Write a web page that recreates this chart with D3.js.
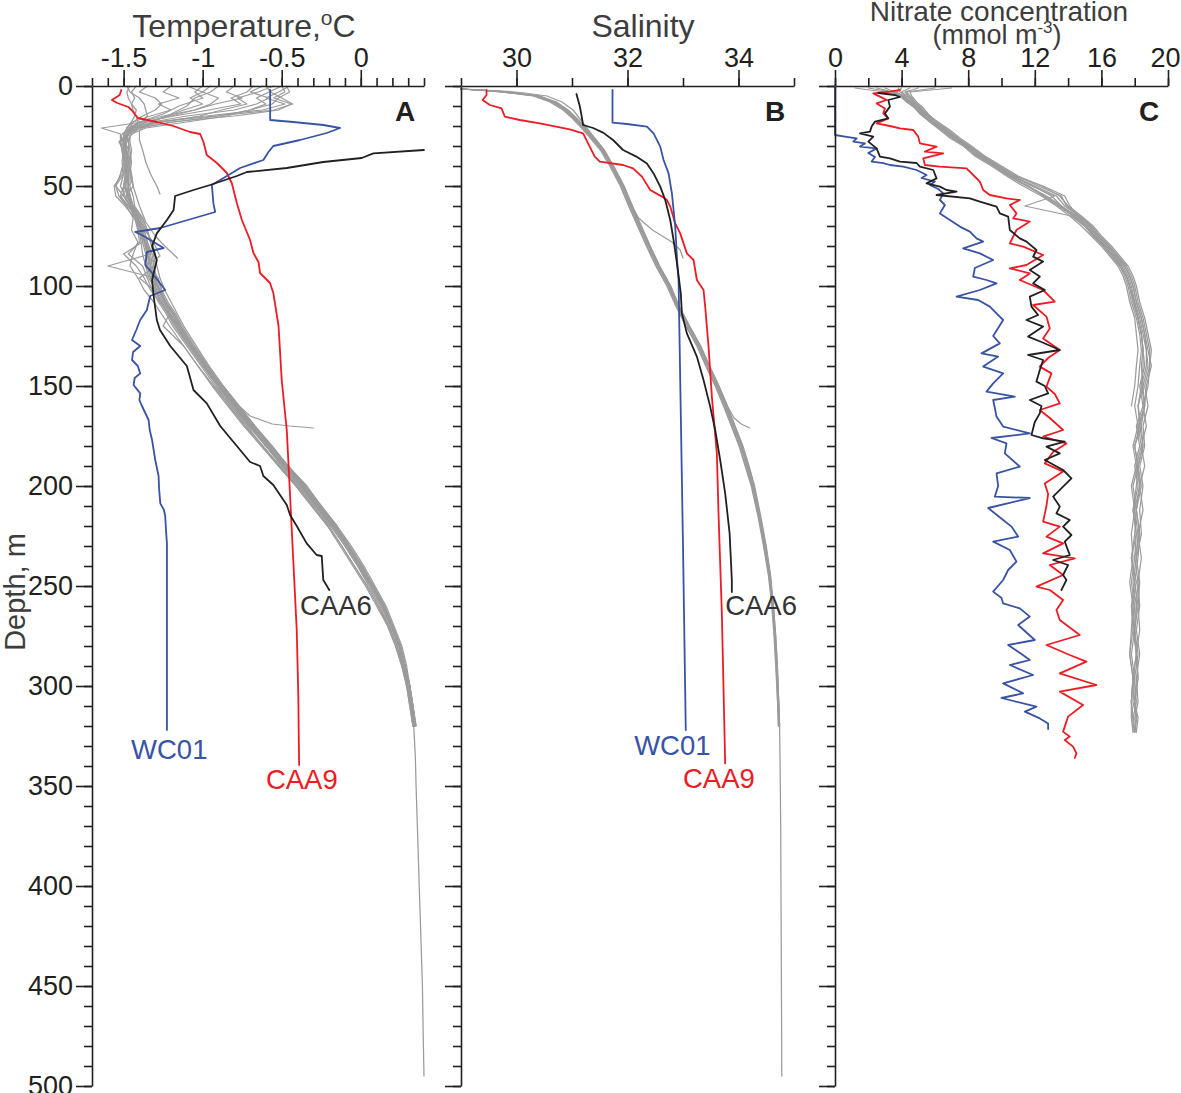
<!DOCTYPE html>
<html>
<head>
<meta charset="utf-8">
<script src="https://cdn.jsdelivr.net/npm/d3@7"></script>
<style>
    body { margin: 0; background: #fff; }
    svg { display: block; font-family: "Liberation Sans", Arial, Helvetica, sans-serif; }
    .axis path, .axis line { stroke: #231f20; stroke-width: 1.6; }
    .axis text { fill: #231f20; font-size: 27px; }
    .title { fill: #3d3d3d; font-size: 32px; }
    .panel-letter { fill: #231f20; font-size: 28px; font-weight: bold; }
    .profile { fill: none; stroke-linejoin: round; stroke-linecap: round; }
</style>
</head>
<body>
<svg id="chart" width="1181" height="1093"></svg>
<script>
// ---- tick values ----
const depthMajorTicks = d3.range(0, 501, 50);
const depthMinorTicks = d3.range(0, 501, 10);
const tempMajorTicks = [-1.5, -1, -0.5, 0];
const tempMinorTicks = d3.range(-17, 5).map(i => i / 10);
const salMajorTicks = [30, 32, 34];
const salMinorTicks = [29, 30, 31, 32, 33, 34, 35];
const nitMajorTicks = [0, 4, 8, 12, 16, 20];
const nitMinorTicks = [0, 2, 4, 6, 8, 10, 12, 14, 16, 18, 20];

// ---- A: temperature, [depth, degC] ----
const tempCAA9 = [[2,-1.515],[4.5,-1.525],[7,-1.574],[8.5,-1.54],[10.5,-1.47],[12,-1.45],[16,-1.41],[18,-1.29],[20,-1.186],[23,-1.08],[24,-1.016],[28,-0.995],[34.5,-0.974],[38.5,-0.91],[43.5,-0.847],[48.5,-0.816],[58.5,-0.784],[67,-0.752],[77,-0.70],[83.5,-0.679],[88,-0.647],[93.5,-0.637],[98.5,-0.574],[103.5,-0.553],[120,-0.52],[147,-0.50],[172,-0.468],[205,-0.447],[238.5,-0.426],[272,-0.405],[305,-0.395],[339.5,-0.39]];
const tempWC01 = [[2,-0.573],[17,-0.573],[18,-0.427],[19.5,-0.237],[21,-0.131],[23.5,-0.215],[27,-0.384],[30,-0.553],[33,-0.584],[37,-0.616],[41,-0.763],[47,-0.889],[49.5,-0.942],[58.7,-0.932],[63,-0.921],[71,-1.268],[73,-1.426],[75,-1.374],[81,-1.247],[83,-1.353],[89.5,-1.363],[93.5,-1.32],[102,-1.237],[105,-1.332],[112,-1.353],[117,-1.395],[122,-1.42],[127,-1.447],[130,-1.395],[133,-1.44],[137,-1.447],[140,-1.41],[143.7,-1.395],[146,-1.43],[149.5,-1.437],[153.7,-1.395],[157,-1.40],[160,-1.384],[167,-1.342],[172,-1.335],[177,-1.32],[182,-1.31],[187,-1.3],[195,-1.279],[202,-1.275],[208.7,-1.268],[212,-1.245],[215,-1.237],[222,-1.232],[228.7,-1.226],[322,-1.226]];
const tempCAA6 = [[32,0.4],[33.7,0.08],[36,0.006],[38,-0.237],[41,-0.468],[43,-0.72],[45,-0.784],[49.5,-0.953],[52,-1.058],[55,-1.174],[62,-1.184],[67,-1.226],[73.7,-1.29],[80,-1.32],[87,-1.29],[97,-1.32],[105,-1.31],[117,-1.29],[122,-1.27],[130,-1.205],[140,-1.1],[152,-1.058],[158.7,-0.974],[170,-0.889],[180,-0.784],[188,-0.7],[190,-0.637],[195,-0.616],[199.5,-0.553],[209.5,-0.468],[214.5,-0.447],[220,-0.405],[228.7,-0.342],[234.5,-0.279],[235,-0.247],[247,-0.237],[252,-0.199]];

const tempGrayDepth = [0,3,6,9,12,15,18,21,24,28,32,38,44,50,55,60,66,72,78,84,90,96,102,108,114,120,130,140,150,160,170,180,190,200,210,220,230,240,250,260,270,280,290,300,310,320];
const tempGray = [
    [-0.45,-0.52,-0.6,-0.48,-0.62,-0.98,-1.3,-1.42,-1.47,-1.49,-1.5,-1.49,-1.48,-1.47,-1.46,-1.44,-1.41,-1.38,-1.36,-1.34,-1.33,-1.31,-1.28,-1.24,-1.19,-1.15,-1.07,-0.98,-0.89,-0.79,-0.69,-0.58,-0.47,-0.36,-0.27,-0.17,-0.08,0.0,0.08,0.15,0.2,0.25,0.28,0.31,0.33,0.345],
    [-0.55,-0.65,-0.78,-0.72,-0.88,-1.02,-1.25,-1.42,-1.48,-1.52,-1.51,-1.5,-1.52,-1.55,-1.5,-1.46,-1.43,-1.41,-1.4,-1.47,-1.38,-1.35,-1.32,-1.28,-1.23,-1.19,-1.1,-1.01,-0.92,-0.82,-0.72,-0.62,-0.51,-0.4,-0.3,-0.2,-0.12,-0.04,0.04,0.11,0.18,0.23,0.27,0.3,0.32,0.335],
    [-1.42,-1.45,-1.43,-1.45,-1.42,-1.43,-1.45,-1.48,-1.5,-1.49,-1.49,-1.48,-1.47,-1.47,-1.46,-1.44,-1.4,-1.37,-1.35,-1.32,-1.31,-1.29,-1.26,-1.22,-1.17,-1.13,-1.05,-0.96,-0.87,-0.77,-0.67,-0.56,-0.46,-0.34,-0.25,-0.15,-0.06,0.02,0.09,0.16,0.21,0.26,0.29,0.31,0.325,0.335],
    [-0.68,-0.72,-0.82,-0.76,-0.96,-1.18,-1.38,-1.46,-1.5,-1.5,-1.48,-1.46,-1.47,-1.5,-1.52,-1.47,-1.42,-1.38,-1.38,-1.5,-1.42,-1.37,-1.33,-1.27,-1.22,-1.18,-1.09,-1.0,-0.9,-0.8,-0.7,-0.6,-0.49,-0.38,-0.28,-0.18,-0.09,-0.01,0.06,0.13,0.19,0.24,0.27,0.3,0.32,0.34],
    [-1.48,-1.46,-1.4,-1.37,-1.36,-1.35,-1.38,-1.64,-1.52,-1.52,-1.51,-1.5,-1.51,-1.56,-1.55,-1.49,-1.43,-1.4,-1.39,-1.38,-1.36,-1.34,-1.3,-1.26,-1.22,-1.17,-1.09,-1.0,-0.91,-0.81,-0.71,-0.6,-0.5,-0.39,-0.29,-0.19,-0.1,-0.02,0.05,0.12,0.18,0.23,0.265,0.295,0.315,0.33],
    [-0.6,-0.57,-0.5,-0.43,-0.55,-0.92,-1.28,-1.42,-1.46,-1.46,-1.45,-1.46,-1.47,-1.48,-1.47,-1.44,-1.38,-1.35,-1.33,-1.3,-1.29,-1.27,-1.24,-1.2,-1.16,-1.12,-1.04,-0.96,-0.87,-0.77,-0.67,-0.57,-0.46,-0.35,-0.25,-0.15,-0.07,0.01,0.08,0.15,0.2,0.25,0.28,0.31,0.33,0.35],
    [-0.8,-0.85,-0.75,-0.92,-1.05,-1.2,-1.36,-1.45,-1.48,-1.47,-1.46,-1.45,-1.46,-1.46,-1.44,-1.43,-1.38,-1.35,-1.33,-1.31,-1.3,-1.4,-1.31,-1.26,-1.21,-1.25,-1.12,-1.03,-0.94,-0.84,-0.74,-0.63,-0.52,-0.41,-0.31,-0.21,-0.13,-0.05,0.03,0.1,0.17,0.22,0.26,0.29,0.31,0.33],
    [-1.35,-1.4,-1.3,-1.26,-1.3,-1.38,-1.44,-1.46,-1.48,-1.53,-1.5,-1.51,-1.5,-1.55,-1.53,-1.48,-1.44,-1.45,-1.41,-1.44,-1.46,-1.41,-1.37,-1.31,-1.26,-1.21,-1.12,-1.03,-0.93,-0.83,-0.73,-0.62,-0.52,-0.41,-0.31,-0.21,-0.12,-0.04,0.04,0.11,0.17,0.22,0.26,0.29,0.31,0.33],
    [-1.2,-1.25,-1.15,-1.28,-1.2,-1.33,-1.44,-1.48,-1.47,-1.49,-1.47,-1.48,-1.49,-1.5,-1.47,-1.46,-1.41,-1.41,-1.36,-1.33,-1.6,-1.3,-1.3,-1.27,-1.21,-1.15,-1.07,-0.98,-0.89,-0.79,-0.69,-0.59,-0.48,-0.37,-0.27,-0.17,-0.08,0.0,0.07,0.14,0.2,0.245,0.28,0.305,0.325,0.34],
    [-0.95,-1.0,-1.08,-1.0,-1.12,-1.22,-1.35,-1.44,-1.47,-1.48,-1.49,-1.47,-1.45,-1.44,-1.48,-1.45,-1.39,-1.36,-1.32,-1.3,-1.36,-1.28,-1.26,-1.24,-1.18,-1.14,-1.06,-0.97,-0.88,-0.78,-0.68,-0.57,-0.46,-0.35,-0.25,-0.16,-0.07,0.01,0.08,0.15,0.2,0.25,0.28,0.31,0.33,0.345],
    [-1.46,-1.48,-1.47,-1.45,-1.44,-1.42,-1.41,-1.44,-1.51,-1.52,-1.51,-1.49,-1.48,-1.5,-1.5,-1.46,-1.43,-1.4,-1.38,-1.36,-1.35,-1.33,-1.3,-1.26,-1.21,-1.17,-1.08,-0.99,-0.9,-0.8,-0.7,-0.6,-0.48,-0.37,-0.28,-0.19,-0.1,-0.02,0.06,0.13,0.19,0.24,0.27,0.3,0.32,0.34],
    [-0.5,-0.58,-0.66,-0.6,-0.7,-0.85,-1.1,-1.36,-1.45,-1.48,-1.49,-1.5,-1.49,-1.49,-1.47,-1.45,-1.41,-1.39,-1.37,-1.35,-1.33,-1.31,-1.27,-1.23,-1.18,-1.14,-1.06,-0.97,-0.88,-0.78,-0.68,-0.58,-0.47,-0.36,-0.26,-0.16,-0.08,0.0,0.08,0.14,0.2,0.25,0.28,0.3,0.32,0.34],
    [-0.62,-0.7,-0.58,-0.66,-0.8,-1.1,-1.32,-1.44,-1.48,-1.5,-1.5,-1.48,-1.47,-1.49,-1.48,-1.45,-1.42,-1.39,-1.36,-1.35,-1.34,-1.32,-1.29,-1.25,-1.2,-1.16,-1.08,-0.99,-0.9,-0.8,-0.7,-0.6,-0.49,-0.38,-0.28,-0.18,-0.09,-0.01,0.07,0.14,0.2,0.25,0.28,0.31,0.33,0.345],
    [-1.1,-1.0,-0.9,-0.95,-1.05,-1.25,-1.4,-1.47,-1.49,-1.51,-1.5,-1.49,-1.5,-1.52,-1.49,-1.46,-1.42,-1.39,-1.37,-1.35,-1.33,-1.31,-1.28,-1.24,-1.19,-1.15,-1.07,-0.98,-0.89,-0.79,-0.69,-0.59,-0.48,-0.37,-0.27,-0.17,-0.09,-0.01,0.07,0.14,0.2,0.25,0.28,0.31,0.33,0.34],
    [-0.47,-0.45,-0.52,-0.56,-0.7,-0.9,-1.18,-1.4,-1.47,-1.5,-1.49,-1.47,-1.48,-1.47,-1.46,-1.44,-1.4,-1.37,-1.35,-1.33,-1.32,-1.3,-1.27,-1.23,-1.18,-1.14,-1.06,-0.97,-0.88,-0.78,-0.68,-0.57,-0.46,-0.36,-0.26,-0.16,-0.08,0.0,0.08,0.15,0.2,0.25,0.28,0.31,0.33,0.35]
];
const tempDeepTail = [[335,0.345],[350,0.35],[375,0.36],[400,0.37],[425,0.38],[450,0.39],[475,0.395],[495,0.4]];
const tempGrayShort = [
    [[0,-0.9],[3,-0.95],[6,-1.05],[10,-1.1],[14,-1.2],[18,-1.32],[22,-1.4],[27,-1.4],[32,-1.38],[38,-1.36],[44,-1.33],[50,-1.29],[54,-1.27]],
    [[0,-0.5],[3,-0.48],[6,-0.55],[9,-0.44],[12,-0.52],[15,-0.8],[18,-1.2],[21,-1.4],[25,-1.46],[30,-1.47],[40,-1.46],[50,-1.44],[60,-1.4],[68,-1.36],[75,-1.3],[80,-1.24],[86,-1.16]],
    [[0,-1.0],[3,-1.05],[6,-1.0],[10,-1.15],[14,-1.25],[18,-1.4],[22,-1.47],[28,-1.49],[38,-1.47],[48,-1.45],[56,-1.52],[62,-1.45],[70,-1.38],[80,-1.3],[85,-1.27],[90,-1.36],[96,-1.3],[105,-1.26],[115,-1.2],[125,-1.12],[135,-1.03],[145,-0.94],[155,-0.84],[165,-0.7],[169,-0.56],[170,-0.45],[171,-0.3]]
];

// ---- B: salinity, [depth, psu] ----
const salCAA9 = [[2,29.46],[4.5,29.46],[7,29.39],[9.5,29.52],[11.2,29.73],[15.3,29.79],[17,30.06],[18.7,30.42],[21.7,30.96],[23.7,31.2],[28.7,31.29],[35.3,31.41],[37.8,31.5],[39.5,31.92],[41.2,32.1],[45.3,32.26],[52,32.41],[55.3,32.62],[57,32.71],[60.3,32.77],[68.7,32.86],[73.7,32.95],[83.7,33.07],[87,33.19],[97,33.25],[102,33.37],[110.3,33.4],[130.3,33.46],[155.3,33.52],[183.7,33.61],[213.7,33.64],[263.7,33.7],[338.7,33.76]];
const salWC01 = [[2,31.73],[18.3,31.73],[19,31.99],[20.3,32.35],[23.7,32.47],[30.3,32.59],[37,32.65],[43.7,32.74],[53.7,32.8],[70.3,32.86],[90.3,32.9],[97,32.92],[147,32.95],[230,33.0],[322,33.05]];
const salCAA6 = [[4,31.08],[10,31.14],[14.5,31.17],[19.5,31.2],[21,31.38],[23.3,31.56],[27,31.74],[32,31.92],[35.3,32.16],[38.7,32.35],[43.7,32.47],[50.3,32.59],[57,32.68],[67,32.77],[77,32.83],[90.3,32.9],[103.7,32.96],[113.7,32.98],[123.7,33.07],[135.3,33.25],[147,33.37],[160.3,33.49],[172,33.58],[187,33.67],[203.7,33.76],[223.7,33.84],[247,33.88],[253,33.88]];

const salGrayDepth = [1.5,2.5,3.5,5,8,12,16,20,25,32,40,50,60,70,80,90,100,110,120,130,140,150,160,170,180,190,200,215,230,245,260,275,290,305,320];
const salGray = [
    [29.0,29.6,29.95,30.38,30.68,30.9,31.05,31.18,31.34,31.55,31.72,31.91,32.06,32.22,32.38,32.55,32.75,32.9,33.09,33.29,33.45,33.62,33.77,33.91,34.05,34.16,34.26,34.38,34.48,34.56,34.62,34.66,34.69,34.71,34.73],
    [29.0,29.55,29.9,30.33,30.63,30.86,31.02,31.16,31.33,31.53,31.7,31.88,32.03,32.19,32.35,32.52,32.72,32.88,33.06,33.26,33.42,33.59,33.74,33.88,34.02,34.13,34.24,34.36,34.46,34.55,34.61,34.65,34.68,34.7,34.72],
    [29.0,29.65,30.0,30.42,30.72,30.93,31.08,31.21,31.37,31.58,31.75,31.94,32.09,32.25,32.41,32.58,32.78,32.93,33.12,33.32,33.48,33.65,33.8,33.94,34.08,34.19,34.29,34.4,34.5,34.58,34.63,34.67,34.7,34.72,34.74],
    [29.0,29.62,29.97,30.4,30.7,30.91,31.06,31.19,31.35,31.56,31.73,31.92,32.07,32.23,32.39,32.56,32.76,32.91,33.1,33.3,33.46,33.63,33.78,33.92,34.06,34.17,34.27,34.39,34.49,34.57,34.62,34.66,34.69,34.72,34.74],
    [29.0,29.58,29.92,30.36,30.66,30.88,31.03,31.17,31.32,31.54,31.71,31.9,32.05,32.21,32.37,32.54,32.74,32.89,33.08,33.28,33.44,33.61,33.76,33.9,34.04,34.15,34.25,34.37,34.47,34.56,34.62,34.66,34.69,34.71,34.73],
    [29.05,29.75,30.15,30.55,30.82,31.02,31.13,31.24,31.38,31.58,31.74,31.93,32.08,32.24,32.4,32.57,32.77,32.92,33.11,33.31,33.47,33.64,33.79,33.93,34.07,34.18,34.28,34.39,34.49,34.57,34.63,34.67,34.7,34.72,34.74],
    [29.0,29.52,29.88,30.3,30.6,30.84,31.0,31.14,31.3,31.51,31.68,31.87,32.02,32.18,32.34,32.51,32.71,32.87,33.05,33.25,33.41,33.58,33.73,33.87,34.01,34.12,34.23,34.35,34.45,34.54,34.6,34.64,34.67,34.7,34.72]
];
const salDeepTail = [[340,34.75],[370,34.76],[400,34.765],[430,34.77],[460,34.775],[495,34.78]];
const salGrayShort = [
    [[1.5,29.0],[2.5,29.6],[3.5,29.96],[5,30.39],[8,30.69],[12,30.9],[16,31.05],[20,31.18],[25,31.34],[32,31.55],[40,31.72],[50,31.91],[60,32.08],[66,32.2],[72,32.45],[78,32.8],[82,32.95],[86,33.0]],
    [[1.5,29.0],[2.5,29.64],[3.5,29.98],[5,30.41],[8,30.71],[12,30.92],[16,31.07],[20,31.2],[25,31.36],[32,31.57],[40,31.74],[50,31.93],[60,32.08],[70,32.24],[80,32.4],[90,32.57],[100,32.77],[110,32.92],[120,33.11],[130,33.31],[140,33.47],[150,33.64],[160,33.8],[166,33.92],[169,34.05],[171,34.2]]
];

// ---- C: nitrate, [depth, mmol m-3] ----
const nitWC01 = [[1,0],[24.5,0],[25.3,0.6],[26.2,1.3],[27.8,1.1],[28.7,1.8],[30.3,1.5],[31.2,2.5],[33.5,2.0],[35.5,2.4],[37.8,2.2],[38.6,2.9],[39.5,3.3],[40.3,4.1],[42,4.9],[44.5,5.5],[46,5.2],[47.8,6.0],[49.5,5.7],[51.5,6.2],[53.7,6.5],[57,6.3],[59.5,6.6],[63.7,6.3],[67,6.9],[70.3,7.5],[72.8,8.1],[76.2,8.5],[77.8,8.9],[81.2,7.7],[83.7,8.7],[87,9.5],[91,8.4],[95.3,8.3],[97,9.1],[98.7,9.7],[102,8.7],[105.3,7.3],[107,8.6],[110.3,9.3],[113.7,9.7],[117,10.1],[121,9.8],[125,9.5],[128.7,9.9],[133.7,8.8],[135.3,9.8],[140.3,8.9],[143.7,10.1],[148.7,9.5],[152.8,9.1],[155.3,10.8],[157,9.5],[161,9.6],[165.3,9.7],[170.3,10.1],[173.7,11.7],[176,9.4],[178.7,10.3],[183.7,10.2],[190.3,11.1],[193.7,9.7],[200,9.8],[205.3,9.6],[206,11.7],[211,9.2],[217,10.1],[220.3,10.6],[225.3,11.0],[227.8,9.5],[232,10.5],[237.8,10.9],[242,10.4],[247,10.1],[252.8,9.5],[256,10.0],[258.7,10.1],[261.2,11.1],[265.3,11.7],[269.5,11.0],[277,12.0],[279.5,10.4],[284,11.2],[287,11.7],[289.5,10.5],[294.5,11.9],[298.7,10.1],[303.7,11.3],[306,10.0],[310.3,12.1],[312.8,11.4],[316.2,12.3],[318.7,12.8],[321.5,12.8]];
const nitCAA6 = [[3.5,2.6],[4.5,3.6],[5.5,3.9],[7,3.2],[10.3,3.3],[13.7,3.0],[16.2,3.2],[17.8,2.4],[20.3,2.2],[22.8,2.1],[23.7,1.5],[25.3,2.3],[27.8,2.0],[31.2,2.5],[35.3,2.7],[36.2,3.3],[37.8,3.9],[38.5,4.9],[40.3,5.1],[42,5.9],[46.2,6.1],[48.7,5.5],[50.3,6.3],[52,6.7],[52.8,7.3],[54.5,6.1],[56.2,8.1],[57.8,8.7],[60.3,9.7],[63.7,9.9],[65.3,10.4],[72,10.5],[76.2,11.1],[77.8,11.5],[82,12.1],[85.3,11.9],[87.8,12.5],[92,11.7],[95.3,12.3],[98.7,11.9],[102,12.6],[105.3,11.7],[110.3,11.8],[114.5,12.2],[117,11.5],[120.3,12.5],[125.3,11.6],[128,12.4],[132,13.5],[134.5,11.6],[137,12.5],[142,12.3],[147.8,12.1],[150,12.6],[153.7,12.8],[157,11.7],[160,12.4],[163.7,12.3],[168,12.0],[174.5,11.8],[176.2,12.5],[177.8,13.8],[180.3,12.7],[183.7,13.5],[187,12.6],[192,13.7],[196.2,14.2],[200.3,13.7],[205.3,13.1],[210.3,13.5],[213.7,13.3],[217,14.1],[220.3,13.7],[224.5,14.2],[227.8,13.8],[234.5,14.1],[237,13.1],[239.5,14.0],[244.5,13.7],[247,13.9],[250.3,13.7],[252,13.6]];
const nitCAA9 = [[2,3.9],[2.8,3.3],[3.7,2.3],[5.3,2.7],[7,3.1],[8.7,2.5],[11.2,3.0],[13.7,2.9],[16.2,3.2],[18.7,2.5],[20,3.3],[21.2,3.9],[22,4.7],[25.3,5.0],[28.7,5.1],[30.3,6.1],[32.8,5.4],[33.7,6.5],[36.2,5.3],[39.5,5.4],[40.3,6.3],[41.2,7.9],[44.5,8.3],[47.8,8.7],[52,8.9],[54.5,9.3],[56.2,10.3],[57,11.1],[59.5,10.5],[63.7,10.9],[66.2,10.7],[67.8,11.7],[72,10.9],[78.7,10.5],[80.3,11.3],[84.5,12.5],[89.5,11.5],[91.2,10.5],[93.7,11.7],[97,11.1],[102,12.5],[107.8,13.2],[109.5,11.9],[115.3,12.7],[121.2,12.9],[126.2,12.5],[132,13.5],[136,12.8],[140.3,12.3],[143.7,13.0],[150.3,12.7],[154,13.2],[158.7,13.5],[162,12.3],[166,12.9],[172,13.7],[175.3,12.5],[178.7,13.9],[183,13.1],[188.7,12.6],[192.8,13.7],[198.7,12.6],[204,12.8],[210,12.7],[217.8,12.5],[220.3,13.5],[225.3,12.7],[228.7,13.7],[233.7,12.5],[236.2,14.4],[239.5,12.9],[244.5,13.7],[250.3,12.1],[252,12.9],[257,13.7],[262,13.3],[267,13.5],[274.5,14.7],[279.5,12.7],[284.5,14.1],[287.8,15.1],[293.7,13.5],[299.5,15.7],[302.8,13.5],[309.5,14.9],[315.3,14.0],[322.8,13.7],[325.3,14.1],[327,13.8],[330.3,14.3],[333.7,14.5],[336,14.4]];

const nitGrayDepth = [1,3,5,8,11,14,18,22,26,30,35,40,45,50,55,60,65,70,75,80,85,90,95,100,108,116,124,132,140,150,160,170,180,190,200,212,224,236,248,260,272,284,296,308,316,323];
const nitGray = [
    [1.2,3.0,3.9,4.4,4.8,5.2,5.7,6.4,7.0,7.8,8.5,9.5,10.4,11.5,12.6,13.5,14.3,15.0,15.6,16.1,16.7,17.1,17.5,17.7,17.9,18.2,18.4,18.5,18.6,18.3,18.5,18.1,18.3,18.0,18.2,17.9,18.1,17.8,18.0,17.8,17.9,17.7,17.9,17.8,17.9,17.9],
    [7.0,4.5,4.6,4.9,5.3,5.6,6.1,6.8,7.4,8.1,8.9,9.9,10.9,12.2,13.6,13.9,14.7,15.4,15.9,16.5,17.0,17.5,17.8,18.0,18.2,18.5,18.7,18.9,18.9,18.8,18.5,18.7,18.4,18.6,18.3,18.5,18.2,18.4,18.2,18.3,18.1,18.3,18.1,18.2,18.0,18.1],
    [2.5,3.5,4.0,4.5,4.9,5.4,6.0,6.7,7.3,8.0,8.8,9.8,10.7,11.8,13.2,11.4,14.2,15.0,15.6,16.2,16.7,17.2,17.5,17.7,18.0,18.2,18.4,18.5,18.5,18.4,18.2,18.4,18.0,18.2,17.9,18.1,18.0,17.8,18.1,17.9,18.0,17.8,18.0,17.9,18.1,18.0],
    [5.0,4.2,4.4,4.7,5.1,5.5,6.0,6.6,7.2,7.9,8.8,9.7,10.8,12.5,13.8,14.1,14.6,15.3,15.8,16.4,16.9,17.4,17.7,17.9,18.1,18.4,18.6,18.8,19.0,18.7,18.6,18.4,18.5,18.2,18.4,18.1,18.3,18.2,18.0,18.2,18.0,18.1,18.2,18.0,18.1,18.0],
    [3.0,3.6,4.1,4.5,4.9,5.2,5.8,6.5,7.1,7.8,8.6,9.6,10.5,11.6,12.7,13.6,14.4,15.1,15.6,16.2,16.7,17.2,17.5,17.7,17.9,18.2,18.4,18.5,18.4,18.5,18.2,18.3,18.0,18.2,18.1,17.9,18.1,18.0,17.8,18.0,17.9,18.1,17.9,17.8,17.9,18.0],
    [4.5,4.0,4.3,4.8,5.2,5.5,6.2,6.9,7.5,8.2,9.0,10.0,11.0,12.4,13.5,14.0,14.8,15.5,16.0,16.6,17.1,17.6,17.9,18.1,18.3,18.6,18.8,19.0,18.9,18.6,18.8,18.5,18.6,18.3,18.5,18.3,18.4,18.1,18.3,18.2,18.3,18.1,18.2,18.0,18.2,18.1],
    [2.0,3.4,3.9,4.3,4.8,5.1,5.7,6.3,6.9,7.7,8.4,9.4,10.3,11.3,12.4,13.3,14.1,14.8,15.4,16.0,16.5,17.0,17.3,17.5,17.7,18.0,18.1,18.2,18.1,18.0,17.8],
    [6.0,4.3,4.5,4.8,5.1,5.4,5.9,6.6,7.2,8.0,8.7,9.7,10.6,11.9,13.0,13.6,14.5,15.2,15.7,16.3,16.8,17.3,17.6,17.8,18.0,18.3,18.5,18.7,18.7,18.4,18.6,18.2,18.4,18.1,18.3,18.0,18.2,18.1,17.9,18.1,18.0,18.1,17.9,18.0,18.1,18.0],
    [3.8,3.9,4.2,4.6,5.0,5.3,5.8,6.5,7.1,7.8,8.6,9.6,10.5,11.6,12.5,13.4,14.3,15.0,15.5,16.1,16.6,17.1,17.4,17.6,17.8,18.1,18.3,18.4,18.3,18.2,18.0,18.2,17.9,18.1,17.8,18.0,17.8,17.9,17.7,17.9,17.8,17.7,17.9,17.8,17.8,17.9],
    [4.0,3.7,4.1,4.6,5.0,5.4,6.0,6.7,7.3,8.0,8.8,9.8,10.7,12.0,13.3,13.8,14.6,15.3,15.8,16.4,16.9,17.4,17.7,17.9,18.1,18.4,18.6,18.7,18.8,18.5,18.6,18.3,18.5,18.2,18.3,18.1,18.3,18.0,18.2,18.1,18.0,18.2,18.0,18.1,17.9,18.0]
];

// ---- layout ----
const chartSettings = {
    width: 1181,
    top: 86,
    bottom: 1086,
    majorTick: 16,
    minorTick: 8,
    tickPadding: 3,
    gray: "#9b9b9b",
    colors: { WC01: "#3953a4", CAA9: "#ed1c24", CAA6: "#231f20" },
};

const svg = d3.select("#chart");
const yScale = d3.scaleLinear().domain([0, 500]).range([chartSettings.top, chartSettings.bottom]);

const onGrid = (grid, values) => values.map((v, i) => [grid[i], v]);

const panels = [
    {
        letter: "A",
        x: d3.scaleLinear().domain([-1.7, 0.4]).range([92, 424]),
        major: tempMajorTicks, minor: tempMinorTicks,
        depthLabels: true,
        gray: tempGray.map((v, i) => i === 2 ? onGrid(tempGrayDepth, v).concat(tempDeepTail) : onGrid(tempGrayDepth, v))
            .concat(tempGrayShort),
        lines: [["CAA9", tempCAA9], ["WC01", tempWC01], ["CAA6", tempCAA6]],
        labels: [["CAA6", -0.384, 264.5], ["WC01", -1.453, 336.5], ["CAA9", -0.6, 351.5]],
    },
    {
        letter: "B",
        x: d3.scaleLinear().domain([29, 35]).range([461, 794]),
        major: salMajorTicks, minor: salMinorTicks,
        depthLabels: false,
        gray: salGray.map((v, i) => i === 3 ? onGrid(salGrayDepth, v).concat(salDeepTail) : onGrid(salGrayDepth, v))
            .concat(salGrayShort),
        lines: [["CAA9", salCAA9], ["WC01", salWC01], ["CAA6", salCAA6]],
        labels: [["CAA6", 33.76, 264.5], ["WC01", 32.12, 334.5], ["CAA9", 33.0, 351]],
    },
    {
        letter: "C",
        x: d3.scaleLinear().domain([0, 20]).range([835, 1168]),
        major: nitMajorTicks, minor: nitMinorTicks,
        depthLabels: false,
        gray: nitGray.map(v => onGrid(nitGrayDepth, v)),
        lines: [["CAA9", nitCAA9], ["WC01", nitWC01], ["CAA6", nitCAA6]],
        labels: [],
    },
];

function drawPanel(p) {
    const g = svg.append("g").attr("class", `panel panel-${p.letter}`);
    const line = d3.line().x(d => p.x(d[1])).y(d => yScale(d[0]));

    // grey profiles
    g.append("g").selectAll("path")
        .data(p.gray)
        .join("path")
        .attr("class", "profile")
        .attr("stroke", chartSettings.gray)
        .attr("stroke-width", 1.25)
        .attr("d", line);

    // station profiles
    g.append("g").selectAll("path")
        .data(p.lines)
        .join("path")
        .attr("class", "profile")
        .attr("stroke", d => chartSettings.colors[d[0]])
        .attr("stroke-width", 1.8)
        .attr("d", d => line(d[1]));

    // x axis on top: minor then major ticks
    const [x0, x1] = p.x.range();
    g.append("g")
        .attr("class", "axis")
        .attr("transform", `translate(0,${chartSettings.top})`)
        .call(d3.axisTop(p.x).tickValues(p.minor).tickSize(chartSettings.minorTick).tickSizeOuter(0).tickFormat(""));
    const xMajor = g.append("g")
        .attr("class", "axis")
        .attr("transform", `translate(0,${chartSettings.top})`)
        .call(d3.axisTop(p.x).tickValues(p.major).tickSize(chartSettings.majorTick)
            .tickPadding(chartSettings.tickPadding).tickFormat(d => String(d)));
    xMajor.select(".domain").remove();

    // keep a label that would run past the right edge inside the picture
    xMajor.selectAll(".tick text").each(function () {
        const box = this.getBBox();
        const tx = d3.select(this.parentNode).datum();
        const overflow = p.x(tx) + box.x + box.width - (chartSettings.width - 1);
        if (overflow > 0) d3.select(this).attr("dx", -overflow);
    });

    // y axis
    g.append("g")
        .attr("class", "axis")
        .attr("transform", `translate(${x0},0)`)
        .call(d3.axisLeft(yScale).tickValues(depthMinorTicks).tickSize(chartSettings.minorTick).tickSizeOuter(0).tickFormat(""));
    const yMajor = g.append("g")
        .attr("class", "axis")
        .attr("transform", `translate(${x0},0)`)
        .call(d3.axisLeft(yScale).tickValues(depthMajorTicks).tickSize(chartSettings.majorTick)
            .tickPadding(chartSettings.tickPadding).tickFormat(p.depthLabels ? d => String(d) : ""));
    yMajor.select(".domain").remove();

    g.selectAll(".axis").attr("font-size", null).attr("font-family", null);

    // panel letter
    g.append("text")
        .attr("class", "panel-letter")
        .attr("x", x1 - 19)
        .attr("y", 121)
        .attr("text-anchor", "middle")
        .text(p.letter);

    // station labels
    g.selectAll("text.station")
        .data(p.labels)
        .join("text")
        .attr("class", "station")
        .attr("x", d => p.x(d[1]))
        .attr("y", d => yScale(d[2]))
        .attr("font-size", 27.5)
        .attr("fill", d => d[0] === "CAA6" ? "#333333" : chartSettings.colors[d[0]])
        .text(d => d[0]);
}

panels.forEach(drawPanel);

// titles
const tTitle = svg.append("text").attr("class", "title").attr("x", 244).attr("y", 37).attr("text-anchor", "middle");
tTitle.append("tspan").text("Temperature,");
tTitle.append("tspan").style("font-size", "21px").attr("dy", -12).text("o");
tTitle.append("tspan").attr("dy", 12).text("C");

svg.append("text").attr("class", "title").attr("x", 643).attr("y", 37).attr("text-anchor", "middle").text("Salinity");

svg.append("text").attr("class", "title").attr("x", 999).attr("y", 21).attr("text-anchor", "middle")
    .style("font-size", "28px").text("Nitrate concentration");
const nUnit = svg.append("text").attr("class", "title").attr("x", 997).attr("y", 44).attr("text-anchor", "middle")
    .style("font-size", "27px");
nUnit.append("tspan").text("(mmol m");
nUnit.append("tspan").style("font-size", "17px").attr("dy", -11).text("-3");
nUnit.append("tspan").attr("dy", 11).text(")");

svg.append("text").attr("class", "title")
    .attr("transform", "translate(25,592) rotate(-90)")
    .attr("text-anchor", "middle")
    .style("font-size", "29px")
    .text("Depth, m");
</script>
</body>
</html>
